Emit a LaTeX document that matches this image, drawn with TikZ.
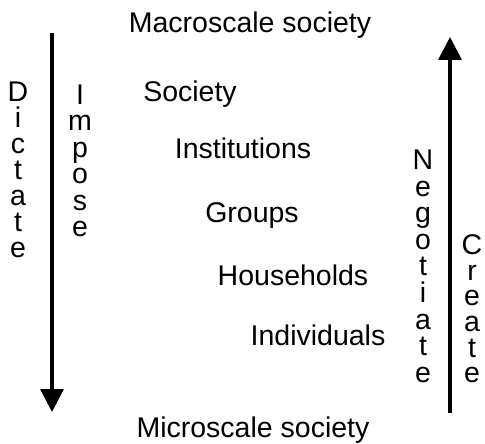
\documentclass[tikz,border=0pt]{standalone}
\usepackage{fontspec}
\setmainfont{Liberation Sans}
\usetikzlibrary{arrows.meta}

\begin{document}
\begin{tikzpicture}[x=1pt, y=-1pt,
    level/.style={anchor=base, inner sep=0pt, font=\fontsize{28.5}{30}\selectfont},
    vword/.style={anchor=north, inner sep=0pt, align=center},
    bigarrow/.style={line width=3.6pt, -{Triangle[width=23pt, length=23pt]}}]
        \useasboundingbox (0, 0) rectangle (485, 444);

        \node[level] (macro) at (250, 33) {Macroscale society};
        \node[level] (society) at (190, 102) {Society};
        \node[level] (institutions) at (243, 158) {Institutions};
        \node[level] (groups) at (252, 222) {Groups};
        \node[level] (households) at (293, 285) {Households};
        \node[level] (individuals) at (318, 345) {Individuals};
        \node[level] (micro) at (253, 437) {Microscale society};

        % top-down side
        \coordinate (downstart) at (52, 33);
        \coordinate (downend) at (52, 412);
        \draw[bigarrow] (downstart) -- (downend);
        \node[vword, font=\fontsize{28.5}{26}\selectfont] (dictate) at (18, 81.6)
          {D\\i\\c\\t\\a\\t\\e};
        \node[vword, font=\fontsize{28.5}{26.4}\selectfont] (impose) at (80, 84.6)
          {I\\m\\p\\o\\s\\e};

        % bottom-up side
        \coordinate (upstart) at (450, 413);
        \coordinate (upend) at (450, 37);
        \draw[bigarrow] (upstart) -- (upend);
        \node[vword, font=\fontsize{28.5}{26.6}\selectfont] (negotiate) at (423, 149.6)
          {N\\e\\g\\o\\t\\i\\a\\t\\e};
        \node[vword, font=\fontsize{28.5}{25.6}\selectfont] (create) at (472, 234.6)
          {C\\r\\e\\a\\t\\e};
\end{tikzpicture}
\end{document}
